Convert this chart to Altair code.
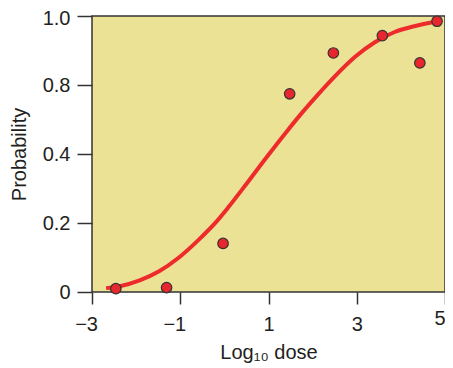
import altair as alt
import pandas as pd

# Observed points (x = log10 dose, y = position on the probability axis, 0..1 of its height)
obs_x = [-2.46, -1.31, -0.03, 1.48, 2.47, 3.58, 4.43, 4.82]
obs_y = [0.012, 0.016, 0.176, 0.718, 0.866, 0.929, 0.830, 0.981]

# Fitted curve
fit_x = [-2.68, -2.37, -1.92, -1.48, -1.03, -0.59, -0.18, 0.08, 0.52, 0.97,
         1.41, 1.71, 2.08, 2.52, 2.97, 3.41, 3.86, 4.30, 4.82]
fit_y = [0.014, 0.021, 0.042, 0.075, 0.125, 0.188, 0.255, 0.305, 0.396, 0.491,
         0.581, 0.640, 0.708, 0.784, 0.853, 0.905, 0.942, 0.963, 0.980]

x_ticks = [-3, -1, 1, 3, 5]
y_ticks = [0, 0.25, 0.5, 0.75, 1.0]
y_tick_labels = ["0", "0.2", "0.4", "0.8", "1.0"]

obs = pd.DataFrame({"x": obs_x, "y": obs_y})
fit = pd.DataFrame({"x": fit_x, "y": fit_y})

label_expr = "[" + ",".join(f"'{s}'" for s in y_tick_labels) + "][indexof(" + \
    "[" + ",".join(str(v) for v in y_ticks) + "], datum.value)]"

font = "Liberation Sans"
txt = "#231F20"

xscale = alt.Scale(domain=[-3, 5], nice=False, zero=False)
yscale = alt.Scale(domain=[0, 1], nice=False, zero=False)

xaxis = alt.Axis(values=x_ticks, title="Log₁₀ dose", domain=False, grid=False,
                 tickSize=12, tickColor="#333333", tickWidth=1.5,
                 labelFlush=False, labelAlign="right",
                 labelOffset={"condition": {"test": "datum.value == 5", "value": 0}, "value": 5.5},
                 labelPadding={"condition": {"test": "datum.value == 5", "value": 4}, "value": 10},
                 labelFontSize=20, labelFont=font, labelColor=txt,
                 titleFontSize=20, titleFont=font, titleFontWeight="normal",
                 titleColor=txt, titlePadding=8, format="d")
yaxis = alt.Axis(values=y_ticks, title="Probability", domain=False, grid=False,
                 tickSize=15, tickColor="#333333", tickWidth=1.5,
                 labelPadding=7, labelFontSize=20, labelFont=font, labelColor=txt,
                 labelExpr=label_expr, labelFlush=False,
                 labelBaseline={"condition": {"test": "datum.value == 1", "value": "top"}, "value": "middle"},
                 labelOffset={"condition": {"test": "datum.value == 1", "value": -8}, "value": 0},
                 titleFontSize=20, titleFont=font, titleFontWeight="normal",
                 titleColor=txt, titlePadding=13)

line = alt.Chart(fit).mark_line(color="#EE2B2B", strokeWidth=4, interpolate="monotone").encode(
    x=alt.X("x:Q", scale=xscale, axis=xaxis),
    y=alt.Y("y:Q", scale=yscale, axis=yaxis),
)

pts = alt.Chart(obs).mark_point(filled=True, shape="circle", size=110, fill="#E8262D",
                                stroke="#333333", strokeWidth=1.2, opacity=1).encode(
    x=alt.X("x:Q", scale=xscale),
    y=alt.Y("y:Q", scale=yscale),
)

chart = alt.layer(line, pts).properties(
    width=353, height=276,
    autosize=alt.AutoSizeParams(type="none"),
    padding={"left": 84, "top": 8, "right": 0, "bottom": 72},
    background="white",
).configure_view(
    fill="#ECE296", stroke="#333333", strokeWidth=1.5
)

chart.save("out.html", embed_options={"renderer": "svg", "actions": False})
